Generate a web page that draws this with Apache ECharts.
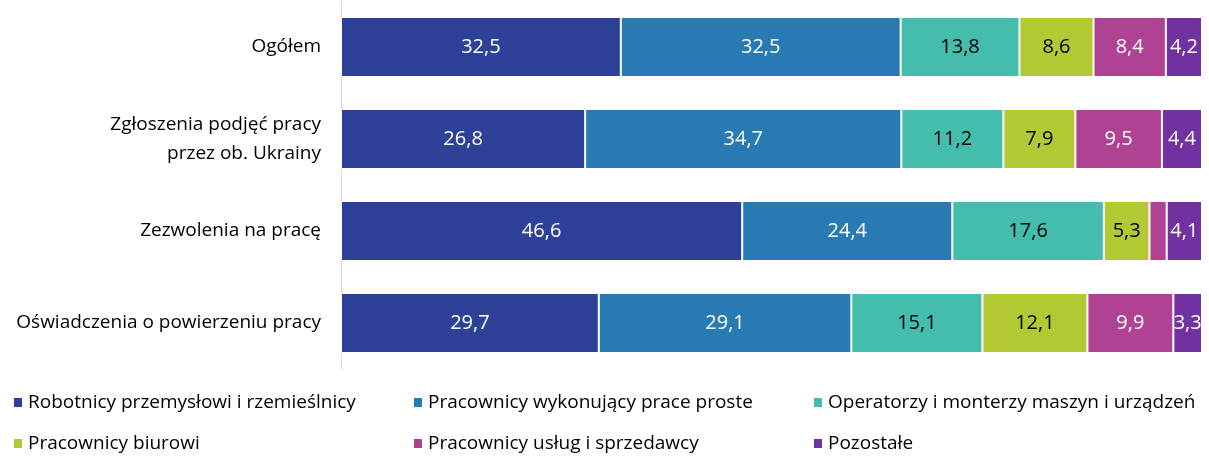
<!DOCTYPE html>
<html>
<head>
<meta charset="utf-8">
<script src="https://cdn.jsdelivr.net/npm/echarts@6/dist/echarts.min.js"></script>
<style>
  html, body { margin: 0; padding: 0; background: #fff; }
  #chart { width: 1209px; height: 458px; }
</style>
</head>
<body>
<div id="chart"></div>
<script>
const categories = [
  'Ogółem',
  'Zgłoszenia podjęć pracy\nprzez ob. Ukrainy',
  'Zezwolenia na pracę',
  'Oświadczenia o powierzeniu pracy'
]

const seriesNames = [
  'Robotnicy przemysłowi i rzemieślnicy',
  'Pracownicy wykonujący prace proste',
  'Operatorzy i monterzy maszyn i urządzeń',
  'Pracownicy biurowi',
  'Pracownicy usług i sprzedawcy',
  'Pozostałe'
]

const robotnicy = [32.5, 26.8, 46.6, 29.7]
const praceProste = [32.5, 34.7, 24.4, 29.1]
const operatorzy = [13.8, 11.2, 17.6, 15.1]
const biurowi = [8.6, 7.9, 5.3, 12.1]
const uslugi = [8.4, 9.5, 2.0, 9.9]
const pozostale = [4.2, 4.4, 4.1, 3.3]

const colors = ['#2e4199', '#287bb2', '#44bdac', '#b3c934', '#b04294', '#7131a0']
const labelColors = ['#fff', '#fff', '#000', '#000', '#fff', '#fff']

const rawSeries = [robotnicy, praceProste, operatorzy, biurowi, uslugi, pozostale]

// each bar is stretched to 100%
const totals = categories.map((_, i) => rawSeries.reduce((s, arr) => s + arr[i], 0))

const FONT = 'Open Sans'

// one legend per item so the three columns line up like the original
const legends = seriesNames.map((name, k) => ({
  data: [name],
  left: 12 + (k % 3) * 400,
  top: k < 3 ? 393 : 434,
  padding: 0,
  itemWidth: 10,
  itemHeight: 11,
  itemGap: 0,
  icon: 'rect',
  textStyle: { fontSize: 19, color: '#000', fontFamily: FONT }
}))

const chart = echarts.init(document.getElementById('chart'))

chart.setOption({
  animation: false,
  textStyle: { fontFamily: FONT },
  grid: { left: 341, right: 7, top: 1, height: 368 },
  xAxis: {
    type: 'value',
    min: 0,
    max: 100,
    show: false
  },
  yAxis: {
    type: 'category',
    inverse: true,
    data: categories,
    axisLine: { show: true, lineStyle: { color: '#d9d9d9', width: 1 } },
    axisTick: { show: false },
    axisLabel: {
      color: '#000',
      fontSize: 19,
      fontFamily: FONT,
      margin: 20,
      lineHeight: 29,
      align: 'right'
    }
  },
  legend: legends,
  series: rawSeries.map((arr, k) => ({
    name: seriesNames[k],
    type: 'bar',
    stack: 'total',
    barWidth: 60,
    itemStyle: { color: colors[k], borderColor: '#fff', borderWidth: 1 },
    label: {
      show: true,
      position: 'inside',
      color: labelColors[k],
      fontSize: 20,
      fontFamily: FONT,
      formatter: (p) => {
        const raw = arr[p.dataIndex]
        return raw < 3 ? '' : raw.toFixed(1).replace('.', ',')
      }
    },
    data: arr.map((v, i) => v / totals[i] * 100)
  }))
})
</script>
</body>
</html>
